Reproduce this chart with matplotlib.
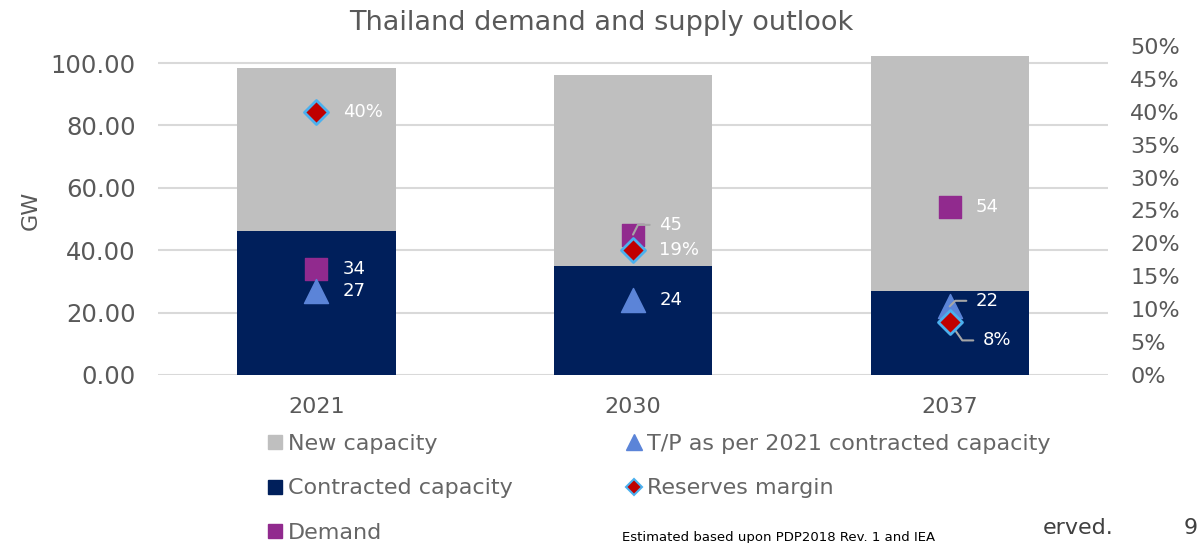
import matplotlib.pyplot as plt
from matplotlib.lines import Line2D
import numpy as np

plt.rcParams['font.family'] = ['DejaVu Sans']

years = ['2021', '2030', '2037']
contracted = [46.2, 34.9, 26.9]      # GW
new_capacity = [52.2, 61.3, 75.3]    # GW
demand = [34, 45, 54]                # GW
tp_2021 = [27, 24, 22]               # GW
reserve_margin = [40, 19, 8]         # %

navy = '#001F5B'
grey_bar = '#BFBFBF'
purple = '#912A8E'
tri_blue = '#5B84D8'
red = '#C00000'
edge_blue = '#4BB0EE'
text_grey = '#595959'
leader = '#A6A6A6'

fig = plt.figure(figsize=(12.03, 5.43), dpi=100)
ax = fig.add_axes([158 / 1203, 1 - 375 / 543, 950 / 1203, 329 / 543])
x = np.arange(len(years))

ax.bar(x, contracted, width=0.5, color=navy, zorder=2)
ax.bar(x, new_capacity, width=0.5, bottom=contracted, color=grey_bar, zorder=2)
ax.scatter(x, demand, marker='s', s=260, color=purple, zorder=3)
ax.scatter(x, tp_2021, marker='^', s=300, color=tri_blue, zorder=3)

ax.set_xlim(-0.5, 2.5)
ax.set_ylim(0, 105.45)
ax.set_yticks(np.arange(0, 101, 20))
ax.set_yticklabels([f'{v:.2f}' for v in np.arange(0, 101, 20)])
ax.set_xticks(x)
ax.set_xticklabels(years)
ax.grid(axis='y', color='#D9D9D9', linewidth=1.5, zorder=0)
ax.tick_params(length=0, labelcolor=text_grey)
ax.tick_params(axis='y', labelsize=17.5, pad=16)
ax.tick_params(axis='x', labelsize=16, pad=16)
for s in ax.spines.values():
    s.set_visible(False)
ax.set_ylabel('GW', fontsize=16, color=text_grey, labelpad=7)

ax2 = ax.twinx()
ax2.scatter(x, reserve_margin, marker='D', s=150, color=red,
            edgecolors=edge_blue, linewidths=2, zorder=4)
ax2.set_ylim(0, 50)
ax2.set_yticks(np.arange(0, 51, 5))
ax2.set_yticklabels([f'{v}%' for v in range(0, 51, 5)])
ax2.tick_params(length=0, labelsize=16, labelcolor=text_grey, pad=16)
for s in ax2.spines.values():
    s.set_visible(False)

lbl = dict(color='white', fontsize=13, va='center', ha='left',
           textcoords='offset points')

# plain value labels
ax.annotate(f'{demand[0]}', (x[0], demand[0]), xytext=(19, 0), **lbl)
ax.annotate(f'{tp_2021[0]}', (x[0], tp_2021[0]), xytext=(19, 0), **lbl)
ax.annotate(f'{tp_2021[1]}', (x[1], tp_2021[1]), xytext=(19, 0), **lbl)
ax.annotate(f'{demand[2]}', (x[2], demand[2]), xytext=(19, 0), **lbl)
ax2.annotate(f'{reserve_margin[0]}%', (x[0], reserve_margin[0]), xytext=(19, 0), **lbl)
ax2.annotate(f'{reserve_margin[1]}%', (x[1], reserve_margin[1]), xytext=(19, 0), **lbl)

# labels pulled away from crowded markers, with leader lines
def lead(a, xy, txt, off, ang):
    a.annotate(txt, xy, xytext=off, **lbl,
               arrowprops=dict(arrowstyle='-', color=leader, lw=1.5,
                               shrinkA=5, shrinkB=0, relpos=(0, 0.5),
                               connectionstyle=f'angle,angleA=0,angleB={ang},rad=0'))

lead(ax, (x[1], demand[1]), f'{demand[1]}', (19, 7), 63)
lead(ax, (x[2], tp_2021[2]), f'{tp_2021[2]}', (19, 4), 45)
lead(ax2, (x[2], reserve_margin[2]), f'{reserve_margin[2]}%', (24, -13), -55)

fig.suptitle('Thailand demand and supply outlook', x=0.5, y=0.982,
             fontsize=19.5, color=text_grey, va='top')

handles = [
    Line2D([], [], ls='none', marker='s', ms=10, color=grey_bar),
    Line2D([], [], ls='none', marker='s', ms=10, color=navy),
    Line2D([], [], ls='none', marker='s', ms=10, color=purple),
    Line2D([], [], ls='none', marker='^', ms=11, color=tri_blue),
    Line2D([], [], ls='none', marker='D', ms=8, color=red,
           markeredgecolor=edge_blue, markeredgewidth=1.5),
]
names = ['New capacity', 'Contracted capacity', 'Demand',
         'T/P as per 2021 contracted capacity', 'Reserves margin']
fig.legend(handles, names, ncol=2, loc='upper left',
           bbox_to_anchor=(268 / 1203, 1 - 434 / 543), frameon=False,
           fontsize=16, labelcolor='#666666', handlelength=0.6,
           handletextpad=0.3, labelspacing=1.1, columnspacing=5.15,
           borderaxespad=0, borderpad=0)

fig.text(622 / 1203, 1 - 537 / 543, 'Estimated based upon PDP2018 Rev. 1 and IEA',
         fontsize=9.5, color='black', va='center')
fig.text(1043 / 1203, 1 - 528 / 543, 'erved.', fontsize=16, color='#404040', va='center')
fig.text(1184 / 1203, 1 - 528 / 543, '9', fontsize=16, color='#404040', va='center')

fig.savefig('out.png', dpi=100)
